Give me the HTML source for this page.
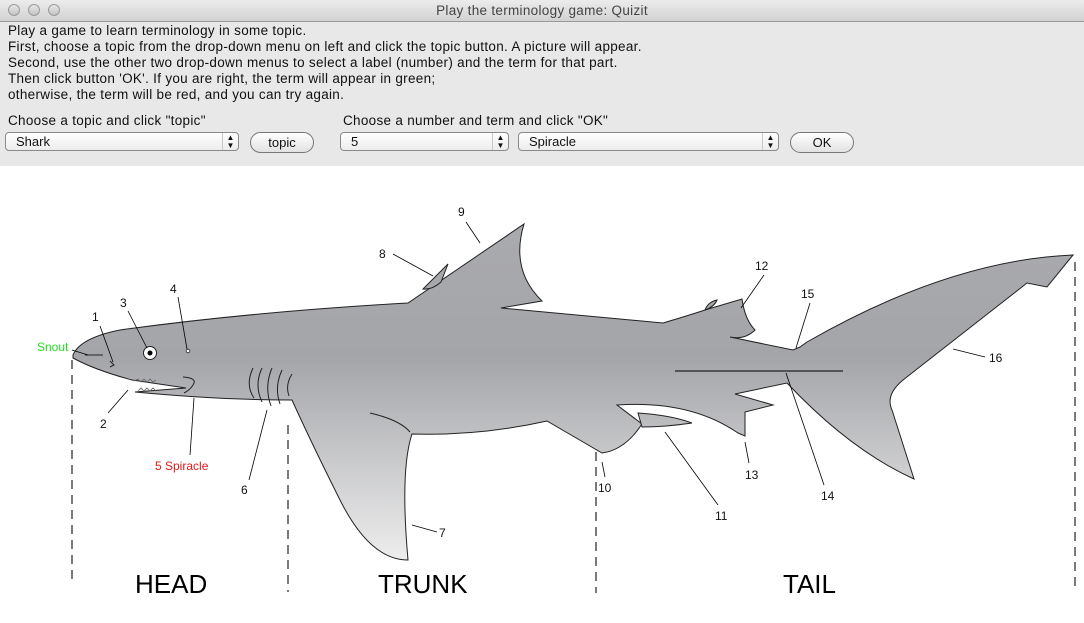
<!DOCTYPE html>
<html><head><meta charset="utf-8"><style>
html,body{margin:0;padding:0;width:1084px;height:623px;overflow:hidden;background:#fff;font-family:"Liberation Sans",sans-serif;}
#title{position:absolute;left:0;top:0;width:1084px;height:22px;background:linear-gradient(#ececec,#d2d2d2);border-bottom:1px solid #9a9a9a;box-sizing:border-box;text-align:center;font-size:13.5px;letter-spacing:0.3px;line-height:22px;color:#444;}
.dot{position:absolute;top:4px;width:12px;height:12px;border-radius:50%;background:linear-gradient(#e6e6e6,#c4c4c4);border:1px solid #9a9a9a;box-sizing:border-box;}
#panel{position:absolute;left:0;top:22px;width:1084px;height:144px;background:#e8e8e8;}
.t{position:absolute;font-size:13.5px;letter-spacing:0.3px;color:#111;white-space:nowrap;}
.combo{position:absolute;height:19px;border:1px solid #8a8a8a;border-radius:4px;background:linear-gradient(#fff,#ececec);box-sizing:border-box;font-size:13px;line-height:17px;padding-left:10px;color:#111;}
.combo .ar{position:absolute;right:0;top:0;width:16px;height:17px;border-left:1px solid #c8c8c8;font-size:8px;line-height:8px;text-align:center;padding-top:1px;box-sizing:border-box;}
.btn{position:absolute;height:21px;border:1px solid #777;border-radius:11px;background:linear-gradient(#fff,#e2e2e2);box-sizing:border-box;font-size:13px;line-height:19px;text-align:center;color:#111;}
</style></head><body>
<div id="title">Play the terminology game: Quizit
<div class="dot" style="left:8px"></div><div class="dot" style="left:28px"></div><div class="dot" style="left:48px"></div></div>
<div id="panel">
<div class="t" style="left:8px;top:1px">Play a game to learn terminology in some topic.</div>
<div class="t" style="left:8px;top:17px">First, choose a topic from the drop-down menu on left and click the topic button. A picture will appear.</div>
<div class="t" style="left:8px;top:33px">Second, use the other two drop-down menus to select a label (number) and the term for that part.</div>
<div class="t" style="left:8px;top:49px">Then click button 'OK'. If you are right, the term will appear in green;</div>
<div class="t" style="left:8px;top:65px">otherwise, the term will be red, and you can try again.</div>
<div class="t" style="left:8px;top:91px">Choose a topic and click "topic"</div>
<div class="t" style="left:343px;top:91px">Choose a number and term and click "OK"</div>
<div class="combo" style="left:5px;top:110px;width:234px">Shark<div class="ar">▲<br>▼</div></div>
<div class="btn" style="left:250px;top:110px;width:64px">topic</div>
<div class="combo" style="left:340px;top:110px;width:169px">5<div class="ar">▲<br>▼</div></div>
<div class="combo" style="left:518px;top:110px;width:261px">Spiracle<div class="ar">▲<br>▼</div></div>
<div class="btn" style="left:790px;top:110px;width:64px">OK</div>
</div>
<svg style="position:absolute;left:0;top:0" width="1084" height="623" viewBox="0 0 1084 623">
<defs><linearGradient id="g" gradientUnits="userSpaceOnUse" x1="0" y1="230" x2="0" y2="565">
<stop offset="0" stop-color="#a9aaae"/><stop offset="0.38" stop-color="#a4a5a9"/><stop offset="1" stop-color="#efefef"/></linearGradient></defs>
<g stroke="#222" stroke-width="1" fill="url(#g)">
<path d="M73,355 Q80,338 120,330 Q250,312 408,303 L524,224 Q510,270 542,301 L501,308 L663,323 Q690,315 705,310 L742,299 Q745,320 755,330 Q745,340 730,337 L793,350 L800,347 L807,342 Q950,260 1073,255 L1047,287 L1027,283 L903,380 Q885,395 892,410 L914,479 Q850,450 787,383 L735,394 L773,405 L745,412 L745,436 L738,433 Q690,400 617,405 L642,424 Q625,450 602,453 L547,421 Q480,436 412,434 Q400,470 408,560 Q370,560 340,500 Q310,440 292,400 Q220,400 135,392 L186,388 L132,380 Q95,370 73,358 Z"/>
<path d="M423,289 L448,264 L441,282 Q432,290 423,289 Z"/>
<path d="M705,310 Q708,302 717,300 Q714,307 705,310 Z"/>
<path d="M638,413 Q670,415 692,423 Q665,427 642,427 Z"/>
</g>
<g stroke="#222" fill="none" stroke-width="1">
<path d="M370,413 Q400,420 410,432"/>
<path d="M183,377 Q198,378 193,385 Q190,390 184,393"/>
<path d="M85,355 L103,355"/><path d="M110,361 L114,365 L110,367"/>
<path d="M675,371 L843,371" stroke-width="1.3"/>
<path d="M253,368 Q245,385 254,398"/><path d="M262,368 Q254,385 262,402"/><path d="M272,368 Q264,387 271,406"/><path d="M282,370 Q274,387 280,404"/><path d="M292,374 Q285,385 289,396"/>
<path d="M134,381 l4,-2 l3,3 l3,-3 l3,3 l3,-3 l3,3 l3,-2 M138,391 l3,-3 l3,3 l3,-3 l3,3 l3,-3 l3,3" stroke="#666" stroke-width="0.8"/>
</g>
<circle cx="150" cy="353" r="6.5" fill="#fff" stroke="#222"/><circle cx="150" cy="353" r="2.5" fill="#000"/>
<circle cx="188" cy="351" r="1.8" fill="#fff" stroke="#222" stroke-width="0.8"/>
<g stroke="#000" stroke-width="0.8">
<line x1="72" y1="350" x2="88" y2="355"/><line x1="100" y1="326" x2="113" y2="362"/><line x1="128" y1="311" x2="147" y2="348"/>
<line x1="178" y1="297" x2="187" y2="349"/><line x1="108" y1="413" x2="128" y2="390"/><line x1="190" y1="455" x2="194" y2="398"/>
<line x1="249" y1="480" x2="267" y2="410"/><line x1="412" y1="525" x2="437" y2="532"/><line x1="393" y1="254" x2="433" y2="276"/>
<line x1="466" y1="222" x2="480" y2="243"/><line x1="605" y1="477" x2="602" y2="462"/><line x1="718" y1="505" x2="665" y2="432"/>
<line x1="764" y1="275" x2="741" y2="308"/><line x1="749" y1="463" x2="745" y2="442"/><line x1="824" y1="485" x2="786" y2="373"/>
<line x1="810" y1="303" x2="796" y2="348"/><line x1="953" y1="349" x2="985" y2="357"/>
</g>
<g stroke="#222" stroke-width="1.2" stroke-dasharray="9,6">
<line x1="72" y1="360" x2="72" y2="583"/><line x1="288" y1="425" x2="288" y2="592"/><line x1="596" y1="452" x2="596" y2="593"/><line x1="1075" y1="262" x2="1075" y2="592"/>
</g>
<g font-family="Liberation Sans, sans-serif" font-size="12" fill="#111">
<text x="37" y="351" fill="#22dd22">Snout</text>
<text x="92" y="321">1</text><text x="120" y="307">3</text><text x="170" y="293">4</text><text x="100" y="428">2</text>
<text x="155" y="470" fill="#e01818">5 Spiracle</text><text x="241" y="494">6</text><text x="439" y="537">7</text>
<text x="379" y="258">8</text><text x="458" y="216">9</text><text x="598" y="492">10</text><text x="715" y="520">11</text>
<text x="755" y="270">12</text><text x="745" y="479">13</text><text x="821" y="500">14</text><text x="801" y="298">15</text><text x="989" y="362">16</text>
</g>
<g font-family="Liberation Sans, sans-serif" font-size="26" fill="#000">
<text x="135" y="593">HEAD</text><text x="378" y="593">TRUNK</text><text x="783" y="593">TAIL</text>
</g>
</svg>
</body></html>
